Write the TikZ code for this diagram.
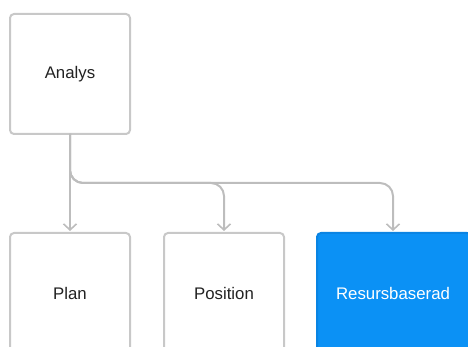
\documentclass[tikz,border=0pt]{standalone}
\usepackage{fontspec}
\setmainfont{Liberation Sans}
\usepackage{xcolor}
\definecolor{linjegra}{HTML}{BDBDBD}
\definecolor{kantgra}{HTML}{C8C8C8}
\definecolor{textgra}{HTML}{222222}
\definecolor{bla}{HTML}{0B91F5}
\definecolor{blamork}{HTML}{0A84E3}
\usetikzlibrary{positioning,arrows.meta,calc}

\begin{document}
\begin{tikzpicture}[x=1pt,y=-1pt,
  ruta/.style={draw=kantgra,fill=white,line width=2pt,rounded corners=4pt,minimum width=120pt,minimum height=120pt,inner sep=0pt,outer sep=0pt,font=\fontsize{16.8}{20}\selectfont,text=textgra},
  vald/.style={ruta,draw=blamork,fill=bla,text=white,minimum width=154pt},
  pil/.style={-{Straight Barb[length=6pt,width=13pt,line width=1.6pt]},linjegra,line width=2pt,rounded corners=13pt,shorten >=2pt}
]
\useasboundingbox (0,0) rectangle (468,347);
\clip (0,0) rectangle (468,347);
\node[ruta] (analys) at (70,74) {Analys};
\node[ruta,below=99pt of analys] (plan) {Plan};
\node[ruta,right=34pt of plan] (position) {Position};
\node[vald,right=33pt of position] (resurs) {\hspace*{-2pt}Resursbaserad};
\coordinate (grind) at ($(analys.south)+(0,49)$);
\draw[pil] (analys.south) -- (plan.north);
\draw[pil] (analys.south) |- (grind -| position.north) -- (position.north);
\draw[pil] (analys.south) |- ($(grind -| resurs.north)+(-1,0)$) -- ($(resurs.north)+(-1,0)$);
\end{tikzpicture}
\end{document}
